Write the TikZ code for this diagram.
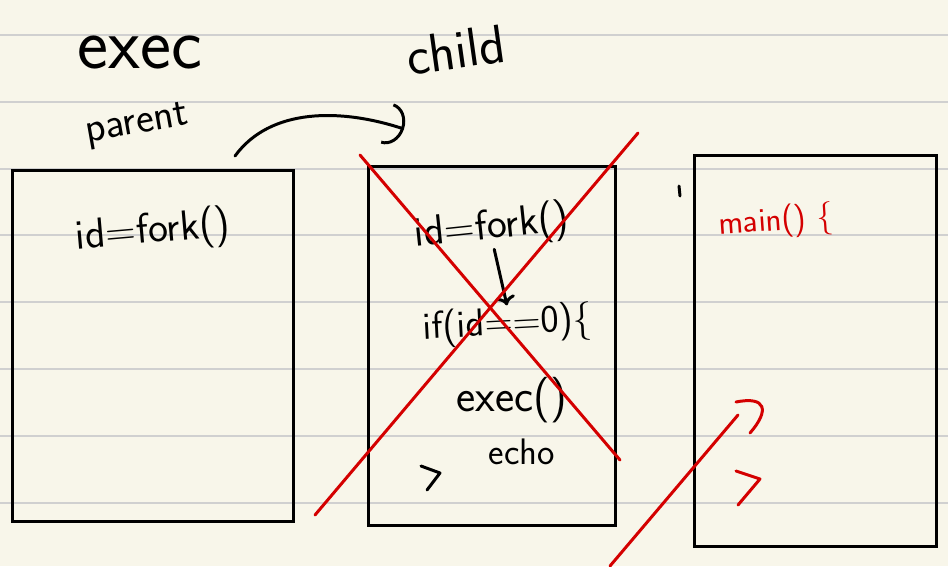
\documentclass[tikz,border=0pt]{standalone}
\usepackage{tikz}
\usetikzlibrary{arrows.meta}
\definecolor{paper}{RGB}{248,246,234}
\definecolor{ruling}{RGB}{208,208,208}
\definecolor{pen}{RGB}{212,0,0}
\renewcommand{\familydefault}{\sfdefault}

\begin{document}
\begin{tikzpicture}[x=0.02cm,y=-0.02cm,
  box/.style={draw=black, line width=1.7pt, rectangle, inner sep=0pt},
  hand/.style={font=\fontsize{#1}{#1}\selectfont, inner sep=0pt},
  rule/.style={draw=ruling, line width=1.2pt},
  strike/.style={draw=pen, line width=1.7pt, line cap=round, line join=round},
  stroke/.style={draw=black, line width=1.7pt, line cap=round, line join=round}]

\useasboundingbox[fill=paper] (0,0) rectangle (948,566);
\foreach \y in {35,101.8,168.6,235.4,302.2,369,435.8,502.6}
  \draw[rule] (0,\y) -- (948,\y);

% headings
\node[hand=42](exec) at (140,52) {exec};
\node[hand=31, rotate=8](child) at (456,50) {child};
\node[hand=24, rotate=10](parent) at (137,126) {parent};

% the three boxes
\node[box, minimum width=5.64cm, minimum height=7.04cm](pbox) at (153,346) {};
\node[box, minimum width=4.96cm, minimum height=7.2cm](cbox) at (492,346) {};
\node[box, minimum width=4.86cm, minimum height=7.84cm](mbox) at (815.5,351) {};

% fork arrow
\coordinate (forkstart) at (235,156);
\coordinate (forkend) at (404,129);
\draw[stroke, -{Arc Barb[length=10pt, width=24pt]}] (forkstart) .. controls (270,108) and (340,108) .. (forkend);

% parent
\node[hand=24, rotate=5](fork1) at (153,232) {id=fork()};

% child
\node[hand=24, rotate=6](fork2) at (492,228) {id=fork()};
\node[hand=22, rotate=3](if2) at (508,325) {if(id==0)\{};
\node[hand=26](exec2) at (512,400) {exec()};
\node[hand=21](echo2) at (522,452) {echo};
\draw[stroke, ->] (fork2.south) -- (if2.north);
\draw[stroke] (421,466) -- (440,473) -- (427,490);

% crossed out
\draw[strike] (360,155) -- (620,460);
\draw[strike] (638,133) -- (315,515);

% new program
\node[hand=19, text=pen, rotate=4](main) at (776,222) {main() \{};
\draw[stroke] (679,186) -- (680,196);
\draw[strike] (610,566) -- (738,415);
\draw[strike] (736,402) .. controls (766,396) and (770,410) .. (750,433);
\draw[strike] (736,471) -- (760,479) -- (738,505);
\end{tikzpicture}
\end{document}
